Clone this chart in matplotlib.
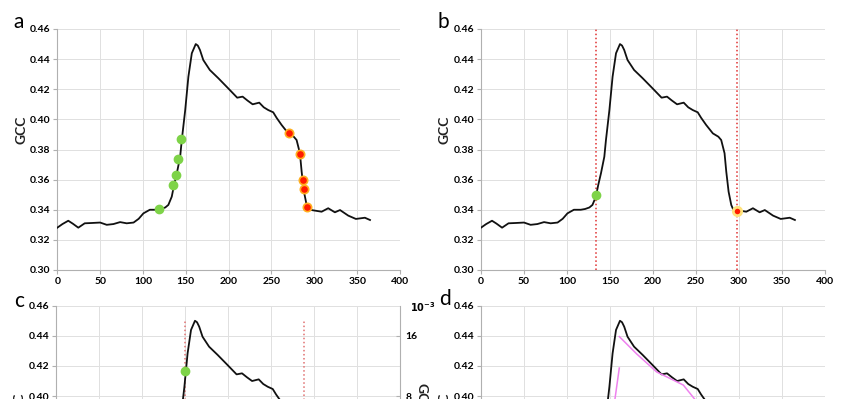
import matplotlib.pyplot as plt
import numpy as np

# GCC seasonal curve (day of year, GCC)
day = [0, 6, 12.8, 18, 24.5, 32, 40, 50, 57.7, 65.5, 73.3, 81, 89, 95, 100.5, 108, 116, 121, 126,
       129.6, 133.6, 136.3, 139.5, 143.4, 145.3, 149.3, 153, 157, 161.6, 164, 166.5, 170.4, 178,
       188, 199.5, 210, 216.3, 222, 228, 235.7, 241, 246.2, 252, 256, 261.8, 269.6, 276, 279.3,
       283.2, 285.2, 287.9, 291, 293, 296.8, 308.5, 316.2, 324, 330, 339.6, 348.5, 359, 365]
gcc = [0.3281, 0.3305, 0.3327, 0.3308, 0.3281, 0.3310, 0.3312, 0.3315, 0.3300, 0.3305, 0.3318,
       0.3310, 0.3315, 0.3340, 0.3376, 0.3400, 0.3400, 0.3405, 0.3415, 0.3432, 0.3487, 0.3564,
       0.3642, 0.3752, 0.3863, 0.4062, 0.4283, 0.4439, 0.4500, 0.4490, 0.4461, 0.4394, 0.4328,
       0.4273, 0.4206, 0.4144, 0.4151, 0.4125, 0.4100, 0.4111, 0.4080, 0.4062, 0.4047, 0.4010,
       0.3963, 0.3907, 0.3885, 0.3863, 0.3775, 0.3653, 0.3520, 0.3432, 0.3405, 0.3398, 0.3387,
       0.3410, 0.3383, 0.3398, 0.3361, 0.3339, 0.3347, 0.3332]

# panel a: threshold points
green_a_day = [119, 135.4, 138.1, 140.5, 144.3]
green_a_gcc = [0.3405, 0.3564, 0.3633, 0.3739, 0.3868]
red_a_day = [270.4, 283.2, 287.0, 287.9, 291.7]
red_a_gcc = [0.3907, 0.3768, 0.3598, 0.3540, 0.3420]

# panel b: SOS / EOS
sos_b, sos_b_gcc = 134, 0.3498
eos_b, eos_b_gcc = 298, 0.3394

# panel c
sos_c, eos_c = 150, 288
green_c_gcc = 0.4165
rate_ticks = [-8, 0, 8, 16]

# panel d: fitted segments
fit_dec_day = [160.8, 181, 204.3, 219.8, 235.3, 249, 258]
fit_dec_gcc = [0.4395, 0.428, 0.416, 0.4117, 0.4073, 0.3976, 0.390]
fit_inc_day = [150, 160.8]
fit_inc_gcc = [0.3745, 0.4186]

yticks = np.arange(0.30, 0.461, 0.02)

plt.rcParams['font.family'] = ['Lato', 'DejaVu Sans']

fig = plt.figure(figsize=(8.5, 3.99), dpi=100)
W, H = 850, 399


def make_ax(left, top, right, bottom):
    return fig.add_axes([left / W, 1 - bottom / H, (right - left) / W, (bottom - top) / H])


def style(ax, letter, lx, ly, lower=False):
    ax.set_xlim(0, 400)
    ax.set_ylim(0.30, 0.46)
    ax.set_xticks(np.arange(0, 401, 50))
    ax.set_yticks(yticks)
    if lower:
        # bottom row is cut by the frame: labels below it would never show
        ax.set_xticklabels([])
        ax.set_yticklabels([f'{v:.2f}' if v > 0.395 else '' for v in yticks])
    else:
        ax.set_yticklabels([f'{v:.2f}' for v in yticks])
    ax.grid(True, color='#e0e0e0', lw=0.7)
    ax.set_axisbelow(True)
    for s in ['top', 'right']:
        ax.spines[s].set_visible(False)
    for s in ['left', 'bottom']:
        ax.spines[s].set_color('#b0b0b0')
        ax.spines[s].set_linewidth(0.8)
    ax.tick_params(length=3, width=0.8, color='#b0b0b0', labelsize=7.5, pad=2)
    for t in ax.get_xticklabels() + ax.get_yticklabels():
        t.set_fontweight('bold')
    ax.set_ylabel('GCC', fontsize=10, fontweight='bold', color='#222222')
    ax.yaxis.set_label_coords(-0.088, 0.58)
    fig.text(lx / W, 1 - ly / H, letter, fontsize=15, ha='left', va='baseline')
    ax.plot(day, gcc, color='#111111', lw=1.3, zorder=3)


ax_a = make_ax(57.3, 29, 400, 270)
ax_b = make_ax(481, 29, 825, 270)
ax_c = make_ax(56, 305.7, 400, 546.7)
ax_d = make_ax(481, 305.7, 825, 546.7)

style(ax_a, 'a', 13, 28)
style(ax_b, 'b', 437, 28)
style(ax_c, 'c', 14, 307, lower=True)
style(ax_d, 'd', 439, 305, lower=True)

# a
ax_a.plot(green_a_day, green_a_gcc, 'o', color='#7ed348', ms=6, mec='#7ed348', zorder=4)
ax_a.plot(red_a_day, red_a_gcc, 'o', color='#ff1a00', ms=6, mec='#ffb020', mew=1.2, zorder=4)

# b
for x in [sos_b, eos_b]:
    ax_b.axvline(x, color='#e03030', ls=':', lw=1.1, zorder=2)
ax_b.plot([sos_b], [sos_b_gcc], 'o', color='#7ed348', ms=6, mec='#7ed348', zorder=4)
ax_b.plot([eos_b], [eos_b_gcc], 'o', color='#ff1a00', ms=6, mec='#ffe27a', mew=2, zorder=4)

# c
ax_c.vlines([sos_c, eos_c], 0.30, 0.45, color='#e07070', ls=':', lw=1.1, zorder=2)
ax_c.plot([sos_c], [green_c_gcc], 'o', color='#7ed348', ms=6, mec='#7ed348', zorder=4)
ax_c2 = ax_c.twinx()
ax_c2.set_ylim(-12, 20)
ax_c2.set_yticks(rate_ticks)
ax_c2.set_yticklabels([str(v) if v > 4 else '' for v in rate_ticks])
ax_c2.spines['right'].set_color('#b0b0b0')
for s in ['top', 'left', 'bottom']:
    ax_c2.spines[s].set_visible(False)
ax_c2.tick_params(direction='in', length=3, color='#b0b0b0', labelsize=7.5, pad=4)
for t in ax_c2.get_yticklabels():
    t.set_fontweight('bold')
fig.text(410 / W, 1 - 312 / H, r'$\mathbf{10^{-3}}$', fontsize=7, ha='left', va='baseline')
fig.text(421 / W, 1 - 383 / H, "GCC'", fontsize=10, fontweight='bold', rotation=270,
         ha='center', va='top', color='#222222')

# d
ax_d.plot(fit_dec_day, fit_dec_gcc, color='#ee82ee', lw=1.1, zorder=4)
ax_d.plot(fit_inc_day, fit_inc_gcc, color='#ee82ee', lw=1.1, zorder=4)

fig.savefig('out.png', dpi=100)
